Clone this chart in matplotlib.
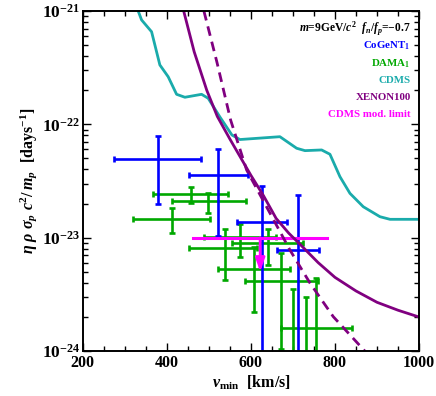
import numpy as np
import matplotlib
matplotlib.use("Agg")
import matplotlib.pyplot as plt
from matplotlib.ticker import MultipleLocator, LogLocator, NullFormatter

plt.rcParams['font.family'] = 'Liberation Serif'
plt.rcParams['font.weight'] = 'bold'
plt.rcParams['mathtext.fontset'] = 'custom'
plt.rcParams['mathtext.rm'] = 'Liberation Serif:bold'
plt.rcParams['mathtext.it'] = 'Liberation Serif:italic:bold'
plt.rcParams['mathtext.bf'] = 'Liberation Serif:bold'
plt.rcParams['mathtext.default'] = 'rm'

# CoGeNT points: center, x range, y range
cogent_v = [378, 522, 627, 713]
cogent_vlo = [274, 452, 568, 663]
cogent_vhi = [481, 593, 686, 763]
cogent_y = [4.9e-23, 3.6e-23, 1.37e-23, 7.8e-24]
cogent_ylo = [2.0e-23, 1.04e-23, 1e-26, 1e-26]
cogent_yhi = [7.9e-23, 6.05e-23, 2.87e-23, 2.4e-23]

# DAMA points
dama_v = [457, 499, 411, 575, 538, 641, 608, 671, 756, 701, 730]
dama_vlo = [367, 411, 320, 488, 452, 555, 521, 587, 671, 640, 670]
dama_vhi = [546, 588, 502, 660, 614, 725, 693, 760, 840, 760, 790]
dama_y = [2.43e-23, 2.09e-23, 1.47e-23, 1.01e-23, 8.05e-24, 8.9e-24,
          5.3e-24, 4.17e-24, 1.6e-24, 7e-25, 7e-25]
dama_ylo = [2.01e-23, 1.66e-23, 1.11e-23, 6.75e-24, 4.23e-24, 5.74e-24,
            2.22e-24, 1.04e-24, 1e-26, 1e-26, 1e-26]
dama_yhi = [2.82e-23, 2.49e-23, 1.84e-23, 1.32e-23, 1.19e-23, 1.19e-23,
            8.32e-24, 7.37e-24, 4.45e-24, 3.49e-24, 2.99e-24]

# CDMS limit curve
cdms_v = [331.7, 339.8, 363.6, 383.3, 403.1, 423.1, 442.9, 482.6, 498.3, 526.2,
          554.8, 573.8, 669.0, 708.8, 728.6, 768.3, 788.1, 811.9, 835.7, 867.4,
          907.1, 931.0, 1000]
cdms_logy = [-21.0, -21.079, -21.183, -21.476, -21.580, -21.735, -21.761, -21.735,
             -21.770, -21.935, -22.094, -22.134, -22.109, -22.211, -22.232, -22.226,
             -22.264, -22.462, -22.609, -22.727, -22.815, -22.838, -22.838]

# XENON100 solid and dashed
xe_v = [440, 465, 495, 520, 550, 575, 600, 630, 660, 690, 720, 760, 800, 850, 900, 950, 1000]
xe_logy = [-21.0, -21.36, -21.70, -21.93, -22.13, -22.29, -22.45, -22.63, -22.83,
           -22.96, -23.07, -23.22, -23.35, -23.47, -23.57, -23.64, -23.70]
xed_v = [488.1, 519, 551.7, 589.8, 637.4, 692.9, 740.5, 796, 875.5]
xed_logy = [-21.0, -21.45, -21.962, -22.403, -22.729, -23.109, -23.40, -23.697, -24.018]

# CDMS modulation limit
mod_v, mod_vlo, mod_vhi = 622, 462, 782
mod_y, mod_tip = 1.0e-23, 5.0e-24

blue = '#0000ff'
green = '#00a800'
cyan = '#1aabab'
purple = '#800080'
magenta = '#ff00ff'

fig = plt.figure(figsize=(4.36, 3.96), dpi=100)
ax = fig.add_axes([0.190, 0.1136, 0.771, 0.8586])

ax.plot(cdms_v, 10.0 ** np.array(cdms_logy), color=cyan, lw=2.0)

def draw_err(v, vlo, vhi, y, ylo, yhi, color):
    v = np.array(v, float); y = np.array(y, float)
    xerr = [v - np.array(vlo), np.array(vhi) - v]
    yerr = [y - np.array(ylo), np.array(yhi) - y]
    ax.errorbar(v, y, xerr=xerr, yerr=yerr, fmt='none', ecolor=color,
                elinewidth=1.9, capsize=2.0, capthick=1.9)

draw_err(dama_v, dama_vlo, dama_vhi, dama_y, dama_ylo, dama_yhi, green)
draw_err(cogent_v, cogent_vlo, cogent_vhi, cogent_y, cogent_ylo, cogent_yhi, blue)

ax.plot([mod_vlo, mod_vhi], [mod_y, mod_y], color=magenta, lw=2.2)
ax.annotate('', xy=(mod_v, mod_tip), xytext=(mod_v, mod_y),
            arrowprops=dict(arrowstyle='-|>,head_length=0.8,head_width=0.28',
                            color=magenta, lw=2.0, shrinkA=0, shrinkB=0))

ax.plot(xe_v, 10.0 ** np.array(xe_logy), color=purple, lw=2.0)
ax.plot(xed_v, 10.0 ** np.array(xed_logy), color=purple, lw=2.0, ls=(0, (3.5, 2.2)))

ax.set_xlim(200, 1000)
ax.set_yscale('log')
ax.set_ylim(1e-24, 1e-21)

ax.xaxis.set_major_locator(MultipleLocator(200))
ax.xaxis.set_minor_locator(MultipleLocator(50))
ax.yaxis.set_minor_locator(LogLocator(base=10, subs=np.arange(2, 10), numticks=20))
ax.yaxis.set_minor_formatter(NullFormatter())
ax.set_xticks([200, 400, 600, 800, 1000])
ax.set_xticklabels(['200', '400', '600', '800', '1000'])
ax.set_yticks([1e-24, 1e-23, 1e-22, 1e-21])
ax.set_yticklabels([r'$10^{-24}$', r'$10^{-23}$', r'$10^{-22}$', r'$10^{-21}$'])
ax.tick_params(which='both', direction='in', top=True, right=True, width=1.0)
ax.tick_params(axis='x', labelsize=11.5, pad=3)
ax.tick_params(axis='y', labelsize=12.5, pad=2)
ax.tick_params(which='major', length=6)
ax.tick_params(which='minor', length=3.5)
for s in ax.spines.values():
    s.set_linewidth(1.4)

ax.set_xlabel(r'$\mathit{v}_{\mathrm{min}}\ \ [\mathrm{km/s}]$', fontsize=11.5, labelpad=2)
ax.set_ylabel(r'$\mathit{\eta\ \rho\ \sigma_p\ c}^2/\,\mathit{m_p}\ \ [\mathrm{days}^{-1}]$',
              fontsize=11.5, labelpad=2)

legend_items = [
    (r'$\mathit{m}$=9GeV/$\mathit{c}^2$  $\mathit{f_n/f_p}$=$-$0.7', 'black', 8.3),
    (r'CoGeNT$_1$', blue, 7.8),
    (r'DAMA$_1$', green, 7.8),
    ('CDMS', cyan, 7.8),
    ('XENON100', purple, 7.8),
    ('CDMS mod. limit', magenta, 7.8),
]
for i, (txt, col, fs) in enumerate(legend_items):
    ax.text(0.975, 0.947 - i * 0.0505, txt, color=col, ha='right', va='center',
            fontsize=fs, transform=ax.transAxes)

fig.savefig('out.png', dpi=100)
